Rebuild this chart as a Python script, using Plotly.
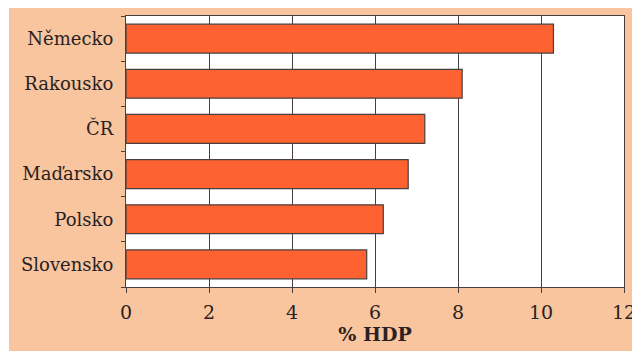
import plotly.graph_objects as go

# Public expenditure on education, share of GDP
countries = ["Německo", "Rakousko", "ČR", "Maďarsko", "Polsko", "Slovensko"]
values = [10.3, 8.1, 7.2, 6.8, 6.2, 5.8]
x_ticks = [0, 2, 4, 6, 8, 10, 12]

W, H = 632, 351
PEACH = "#F9C59E"
BAR = "#FE6230"
INK = "#4A3F3F"
FONT = "DejaVu Serif"

fig = go.Figure(
    go.Bar(
        y=countries,
        x=values,
        orientation="h",
        marker=dict(color=BAR, line=dict(color=INK, width=1.2)),
        hoverinfo="skip",
    )
)

fig.update_layout(
    width=W,
    height=H,
    margin=dict(l=126, r=8, t=16, b=64, autoexpand=False),
    paper_bgcolor=PEACH,
    plot_bgcolor="#FFFFFF",
    bargap=0.36,
    showlegend=False,
    font=dict(family=FONT, size=19, color="#2A2222"),
    shapes=[
        # white plot panel, beneath grid and bars
        dict(
            type="rect", xref="paper", yref="paper", layer="below",
            x0=0, x1=1, y0=0, y1=1,
            fillcolor="white", line=dict(width=0),
        ),
        # white page strips above and left of the tinted panel
        dict(
            type="rect", xref="paper", yref="paper", layer="above",
            x0=-126 / 498, x1=8 / 498 + 1, y0=1 + 8 / 271, y1=1 + 16 / 271,
            fillcolor="white", line=dict(width=0),
        ),
        dict(
            type="rect", xref="paper", yref="paper", layer="above",
            x0=-126 / 498, x1=-117 / 498, y0=-64 / 271, y1=1 + 16 / 271,
            fillcolor="white", line=dict(width=0),
        ),
    ],
)

fig.update_xaxes(
    range=[0, 12],
    tickvals=x_ticks,
    ticktext=[str(v) for v in x_ticks],
    tickfont=dict(family=FONT, size=19),
    showgrid=True,
    gridcolor=INK,
    gridwidth=1,
    showline=True,
    linecolor=INK,
    linewidth=1.2,
    mirror=True,
    ticks="outside",
    ticklen=5,
    tickcolor=INK,
    ticklabelstandoff=3,
    ticklabeloverflow="allow",
    automargin=False,
    zeroline=False,
    title=dict(text="<b>% HDP</b>", font=dict(family=FONT, size=19), standoff=0),
    fixedrange=True,
)

fig.update_yaxes(
    categoryorder="array",
    categoryarray=countries[::-1],
    tickfont=dict(family=FONT, size=18),
    showline=True,
    linecolor=INK,
    linewidth=1.2,
    mirror=True,
    ticks="outside",
    tickson="boundaries",
    ticklen=4,
    tickcolor=INK,
    showgrid=False,
    ticklabelstandoff=8,
    automargin=False,
    fixedrange=True,
)

fig.write_html("out.html")
